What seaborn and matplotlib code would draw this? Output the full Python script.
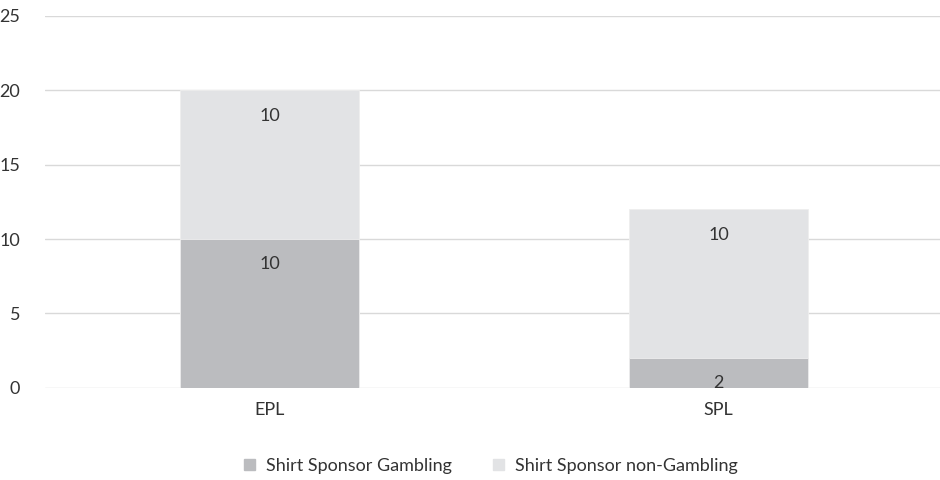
import pandas as pd
import numpy as np
import matplotlib.pyplot as plt
import seaborn as sns
from matplotlib.patches import Patch

# datos
leagues = ['EPL', 'SPL']
gambling = [10, 2]
non_gambling = [10, 10]

df = pd.DataFrame({'League': leagues, 'Gambling': gambling, 'NonGambling': non_gambling})
df['Total'] = df['Gambling'] + df['NonGambling']

sns.set_theme(style='white')
plt.rcParams['font.family'] = ['Lato', 'DejaVu Sans']

dark = '#BBBCBF'
light = '#E2E3E5'
txt = '#333333'

fig = plt.figure(figsize=(9.4, 4.8), dpi=100)
ax = fig.add_axes([0.048, 0.192, 0.955, 0.775])

# barras apiladas: total detras, gambling delante
sns.barplot(data=df, x='League', y='Total', color=light, width=0.4, saturation=1,
            edgecolor='#EEEEEE', linewidth=0.6, ax=ax)
sns.barplot(data=df, x='League', y='Gambling', color=dark, width=0.4, saturation=1,
            edgecolor='#EEEEEE', linewidth=0.6, ax=ax)

bars_total = ax.containers[0]
bars_gamb = ax.containers[1]
ax.bar_label(bars_gamb, labels=[str(v) for v in gambling], padding=-24, fontsize=13, color=txt)
ax.bar_label(bars_total, labels=[str(v) for v in non_gambling], padding=-24, fontsize=13, color=txt)

ax.set_ylim(0, 25)
ax.set_yticks([0, 5, 10, 15, 20, 25])
ax.set_xlim(-0.5, 1.5)
ax.set_xlabel('')
ax.set_ylabel('')
ax.yaxis.grid(True, color='#D9D9D9', linewidth=1)
ax.set_axisbelow(True)
for s in ax.spines.values():
    s.set_visible(False)
ax.tick_params(axis='both', length=0, labelsize=13, labelcolor=txt)
ax.tick_params(axis='y', pad=18)
ax.tick_params(axis='x', pad=10)

handles = [Patch(color=dark, label='Shirt Sponsor Gambling'),
           Patch(color=light, label='Shirt Sponsor non-Gambling')]
fig.legend(handles=handles, loc='center', bbox_to_anchor=(0.522, 0.03), ncol=2, frameon=False,
           fontsize=13, handlelength=0.6, handleheight=0.6, columnspacing=2.3, handletextpad=0.6,
           labelcolor=txt)

plt.savefig('out.png', dpi=100)
